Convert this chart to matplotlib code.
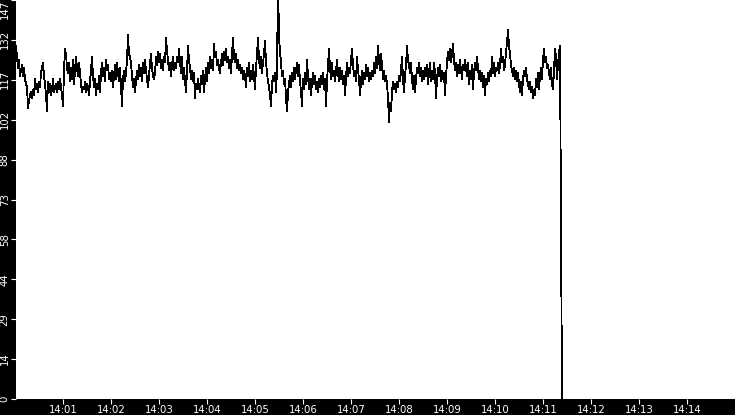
import matplotlib
matplotlib.use("Agg")
import matplotlib.pyplot as plt
import matplotlib.dates as mdates
import pandas as pd
import numpy as np

# ---- data ----
start_time = "2024-01-01 14:00:01.250"
sample_seconds = 1.25
view_start = "2024-01-01 14:00:01.250"
view_end = "2024-01-01 14:15:00"

values_a = [130, 126, 122, 125, 119, 121, 123, 119, 122, 118, 116, 115, 107, 110, 112, 113, 111, 114, 112,
            118, 114, 116, 113, 117, 115, 120, 122, 124, 119, 116, 112, 106, 117, 113, 116, 112, 114, 118,
            113, 115, 116, 113, 117, 114, 118, 115, 112, 108, 121, 129, 127, 122, 120, 124, 117, 122, 118,
            125, 116, 121, 126, 122, 119, 124, 120, 116, 113, 115, 114, 117, 113, 116, 115, 112, 117, 121,
            126, 119, 115, 118, 112, 116, 114, 119, 113, 120, 124, 119, 122, 117, 125, 121, 123, 118]
values_b = [120, 117, 121, 115, 119, 123, 118, 124, 120, 117, 122, 115,
            108, 118, 121, 117, 120, 125, 134, 127, 126, 124, 119, 115, 118, 113,
            117, 121, 118, 123, 119, 122, 117, 124, 120, 125, 121, 118, 115, 119,
            124, 127, 122, 119, 118, 120, 126, 123, 128, 124, 127, 122, 125, 121,
            126, 124, 133, 128, 125, 121, 124, 119, 123, 126, 121, 124, 122, 126,
            124, 129, 124, 120, 126, 118, 122, 117, 113, 121, 130, 125, 122, 118,
            121, 117, 120, 111, 116, 114, 118, 115]
values_c = [113, 119, 116, 121, 113, 118, 122, 117, 124, 120, 126, 122, 125, 121, 131, 126,
            128, 123, 125, 122, 120, 124, 127, 123, 128, 125, 129, 124, 126, 122, 125, 120,
            127, 133, 126, 124, 127, 122, 125, 121, 123, 120, 122, 118, 121, 119, 115,
            122, 119, 124, 117, 121, 118, 123, 119, 114, 122, 127, 133, 125, 122, 126, 120,
            124, 127, 132, 124, 120, 117, 115, 112, 108, 116, 119, 117, 120, 113, 121, 155,
            133, 128, 124, 119, 121, 116, 118, 111, 106, 113, 116]
values_d = [119, 115, 120, 117, 122, 118, 121, 124, 119, 123, 117, 113, 108, 118, 114,
            120, 116, 125, 119, 114, 118, 112, 117, 120, 116, 119, 114, 117, 113, 118,
            115, 119, 116, 120, 114, 118, 108, 117, 123, 129, 122, 118, 124, 119, 121,
            117, 121, 125, 120, 117, 122, 118, 121, 116, 119, 112, 118, 124, 119, 122,
            120, 125, 129, 123, 119, 121, 117, 126, 121, 118, 112, 117, 121, 116, 120,
            118, 123, 119, 122, 117, 120, 118, 121, 119, 124, 120, 126, 122, 130, 125]
values_e = [121, 127, 123, 118, 121, 117, 119, 116, 111, 102, 109, 106, 113, 117, 114, 116, 113, 117,
            115, 119, 117, 121, 126, 118, 113, 119, 123, 130, 125, 123, 120, 124, 118, 114, 119,
            113, 118, 122, 120, 124, 119, 122, 117, 121, 118, 122, 119, 123, 116, 120, 124, 117,
            121, 118, 124, 120, 111, 118, 122, 119, 123, 117, 121, 118, 120, 112, 119, 124,
            128, 125, 129, 124, 127, 131, 125, 121, 124, 119, 123, 120, 125, 121, 118, 123, 121,
            125, 122, 119, 124, 116]
values_f = [121, 118, 123, 114, 120, 124, 121, 126, 122, 118, 121, 117, 120, 115, 119, 112,
            118, 116, 120, 117, 121, 119, 126, 120, 124, 119, 122, 121, 124, 120, 123, 129,
            124, 126, 121, 123, 128, 131, 136, 130, 127, 123, 121, 119, 122, 118, 121, 117,
            120, 116, 113, 117, 112, 118, 121, 119, 122, 118, 116, 114, 117, 113, 115, 111,
            114, 112, 118, 115, 120, 114, 119, 122, 118, 125, 129, 124, 126, 122, 123, 120,
            118, 122, 116, 114, 121, 129, 126, 118, 123, 128, 130]
values_drop = [65, 0]

y_max = 147
y_steps = 10

values = values_a + values_b + values_c + values_d + values_e + values_f + values_drop
times = pd.Timestamp(start_time) + pd.to_timedelta(np.arange(len(values)) * sample_seconds, unit="s")

# ---- figure ----
fig = plt.figure(figsize=(7.35, 4.15), dpi=100, facecolor="black")
ax = fig.add_axes([16 / 735, 16 / 415, 719 / 735, 399 / 415])
ax.set_facecolor("white")

ax.plot(times, values, color="black", lw=0.6, antialiased=False)

ax.set_xlim(pd.Timestamp(view_start), pd.Timestamp(view_end))
ax.set_ylim(0, y_max)

yt = [y_max * i / y_steps for i in range(y_steps + 1)]
ax.set_yticks(yt)
ax.set_yticklabels([str(int(v)) for v in yt])

ax.xaxis.set_major_locator(mdates.MinuteLocator(byminute=range(1, 15)))
ax.xaxis.set_major_formatter(mdates.DateFormatter("%H:%M"))

for s in ax.spines.values():
    s.set_visible(False)

ax.tick_params(axis="both", colors="white", labelcolor="white", length=3.5, width=0.8,
               direction="out", labelsize=7.3)
ax.tick_params(axis="y", labelrotation=90, pad=1)
ax.tick_params(axis="x", pad=0.5)

for lab in ax.get_yticklabels():
    lab.set_va("center")
ylabs = ax.get_yticklabels()
ylabs[-1].set_va("top")

fig.savefig("out.png", dpi=100, facecolor="black")
